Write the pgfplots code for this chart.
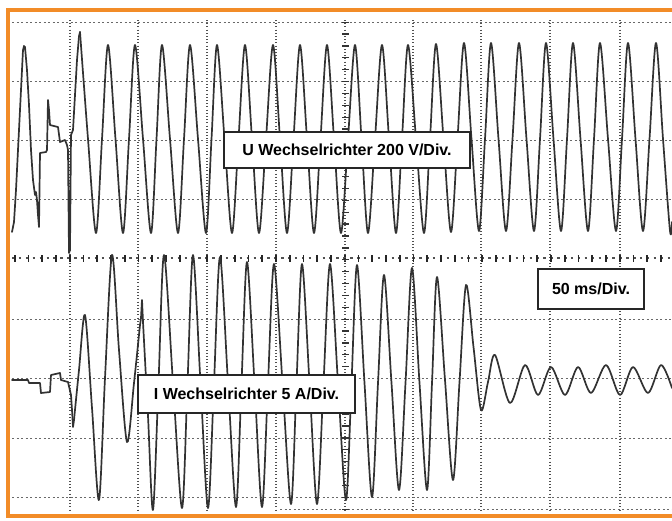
\documentclass[border=0pt]{standalone}
\usepackage{pgfplots}
\pgfplotsset{compat=1.18}
\usepackage{fontspec}
\setmainfont{Liberation Sans}
\definecolor{frameorange}{RGB}{242,140,40}
\definecolor{trace}{RGB}{50,50,50}
\definecolor{gridh}{RGB}{105,105,105}
\definecolor{gridv}{RGB}{80,80,80}
\tikzset{
  hgrid/.style={gridh, line width=0.9pt, dash pattern=on 2pt off 2.5pt},
  vgrid/.style={gridv, line width=1.1pt, dash pattern=on 1pt off 2.2pt},
  tr/.style={trace, line width=1.7pt, line join=round, line cap=round},
  lbl/.style={draw=black!85, fill=white, line width=1.2pt, inner sep=0pt,
    font=\bfseries\fontsize{16}{18}\selectfont},
}
\begin{document}
\begin{tikzpicture}
\begin{axis}[name=ax, width=672pt, height=520pt, scale only axis,
  xmin=0, xmax=672, ymin=0, ymax=520, y dir=reverse,
  hide axis, clip=true,
]
% grid
\pgfplotsinvokeforeach{70,138,207,276,413,481,550,620}{
  \addplot[vgrid] coordinates {(#1,20) (#1,510)};
}
\pgfplotsinvokeforeach{22,81,140,199,319,378,438,497}{
  \addplot[hgrid] coordinates {(12,#1) (672,#1)};
}
\addplot[hgrid] coordinates {(280,509) (672,509)};
% centre lines with ticks
\addplot[gridv, line width=1.3pt, dash pattern=on 2.5pt off 4.4pt] coordinates {(12,258) (672,258)};
\addplot[black!85, line width=7pt, dash pattern=on 1.8pt off 11.95pt] coordinates {(13.8,258) (672,258)};
\addplot[vgrid] coordinates {(345,20) (345,510)};
\addplot[black!80, line width=7pt, dash pattern=on 1.3pt off 10.58pt] coordinates {(345,21.5) (345,510)};
% frame
\addplot[frameorange, line width=4pt] coordinates {(672,10) (8,10) (8,516) (672,516)};

% ---- U trace
\addplot[tr] coordinates {
(12,232) (14,222) (16,190) (18,150) (20,110) (22,70) (23,50) (24,46) (25,47)
(27,70) (29,105) (31,150) (33,180) (35,195) (36,192) (37,200) (38,215) (39,227)
(40,153) (46,152) (47,150) (48,100) (49,110) (50,125) (58,127) (60,142) (65,140)
(67,145) (68,150) (69,253) (70,250) (71,135) (73,130) (75,95) (77,60) (79,36) (80,32)
};
\addplot[tr, smooth] coordinates {
(80,32) (88,139) (96,233) (102,139) (108,45) (115.5,139) (123,233) (129,139)
(135,45) (143,139) (151,233) (156.5,139) (162,45) (170,139) (178,233) (184,139)
(190,45) (198,139) (206,233) (211.5,139) (217,45) (224.5,139) (232,233) (238.5,139)
(245,45) (252,139) (259,233) (266,139) (273,45) (280,139) (287,233) (293.5,139)
(300,45) (307,139) (314,233) (320.5,139) (327,45) (334,139) (341,233) (348,139)
(355,45) (361.5,139) (368,233) (375,139) (382,45) (389,139) (396,233) (402,139)
(408,45) (416,139) (424,233) (430,139) (436,44) (443.5,139) (451,232) (457.5,139)
(464,43) (471.5,139) (479,231) (485,139) (491,43) (498.5,139) (506,231) (512.5,139)
(519,43) (526.5,139) (534,231) (540,139) (546,43) (553.5,139) (561,231) (567,139)
(573,43) (580.5,139) (588,231) (594,139) (600,43) (608,139) (616,231) (622,139)
(628,43) (635.5,139) (643,231) (649.5,139) (656,43) (663,139) (670,231) (672,222)
};

% ---- I trace
\addplot[tr] coordinates {
(12,380) (28,380) (29,383) (40,383) (41,393) (50,392) (51,375) (60,373) (61,380)
(68,382) (71,395) (72,410) (73,427) (74,420)
};
\addplot[tr, smooth] coordinates {
(74,420) (79,370) (85,315) (92,408) (99,500) (105,378) (112,255) (119,350)
(127,442) (134,383) (140,325)
};
\addplot[tr] coordinates {(140,325) (141,318) (142,300) (143,322)};
\addplot[tr, smooth] coordinates {
(143,322) (148,416) (153,510) (158.5,383) (164,255) (173,383) (182,508) (187.5,383)
(193,255) (200.5,383) (208,508) (214,383) (220,257) (228,383) (236,507) (241.5,383)
(247,262) (254.5,383) (262,507) (268,383) (274,264) (282.5,383) (291,504) (296.5,383)
(302,264) (309.5,383) (317,504) (323.5,383) (330,264) (338,383) (346,500) (351.5,383)
(357,265) (364.5,383) (372,497) (378,383) (384,275) (391.5,383) (399,490) (405.5,383)
(412,268) (419.5,383) (427,490) (432,383) (437,277) (445,380) (453,480) (459.5,382)
(466,285) (473.5,347) (481,410) (488,382) (495,355) (510,403)
(525,365) (538,395) (551,367) (565,395)
(578,367) (591,393) (606,365) (620,395)
(633,367) (648,393) (661,365) (672,388)
};

% labels
\node[lbl, minimum width=246pt, minimum height=36pt] at (axis cs:347,150) {U Wechselrichter 200 V/Div.};
\node[lbl, minimum width=217pt, minimum height=38pt] at (axis cs:246.5,394) {I Wechselrichter 5 A/Div.};
\node[lbl, minimum width=106pt, minimum height=40pt] at (axis cs:591,289) {50 ms/Div.};
\end{axis}
\pgfresetboundingbox
\path[use as bounding box] (ax.south west) rectangle (ax.north east);
\end{tikzpicture}
\end{document}
